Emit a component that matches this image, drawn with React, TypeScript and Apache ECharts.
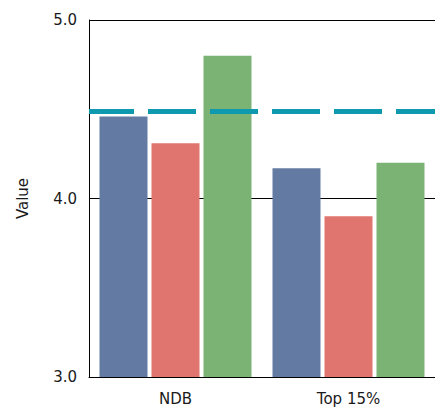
import React, { useEffect, useRef } from "react";
import * as echarts from "echarts";

const categories = ["NDB", "Top 15%"];
const seriesNames = ["Series 1", "Series 2", "Series 3"];
const seriesA = [4.46, 4.17];
const seriesB = [4.31, 3.9];
const seriesC = [4.8, 4.2];
const referenceValue = 4.49;
const colors = ["#637ba3", "#e0746e", "#7ab373"];

export default function App() {
  const ref = useRef<HTMLDivElement>(null);
  useEffect(() => {
    if (!ref.current) return;
    const chart = echarts.init(ref.current, undefined, { renderer: "svg" });
    const font = "DejaVu Sans";
    const values = [seriesA, seriesB, seriesC];
    chart.setOption({
      animation: false,
      grid: { left: 89, top: 20, height: 357, width: 350 },
      xAxis: {
        type: "category",
        data: categories,
        axisLine: { lineStyle: { color: "#000", width: 1 } },
        axisTick: { show: false },
        axisLabel: { fontFamily: font, fontSize: 15, color: "#1a1a1a", margin: 14 },
      },
      yAxis: {
        type: "value",
        min: 3,
        max: 5,
        interval: 1,
        name: "Value",
        nameLocation: "middle",
        nameGap: 59,
        nameTextStyle: { fontFamily: font, fontSize: 15, color: "#1a1a1a" },
        axisLine: { show: true, lineStyle: { color: "#000", width: 1 } },
        axisTick: { show: false },
        axisLabel: {
          fontFamily: font,
          fontSize: 15,
          color: "#1a1a1a",
          margin: 12,
          formatter: (v: number) => v.toFixed(1),
        },
        splitLine: { show: true, lineStyle: { color: "#000", width: 1 } },
      },
      series: values.map((d, i) => ({
        name: seriesNames[i],
        type: "bar",
        data: d,
        barWidth: 48,
        barGap: "8.33%",
        itemStyle: { color: colors[i] },
        ...(i === 0
          ? {
              markLine: {
                silent: true,
                symbol: "none",
                label: { show: false },
                lineStyle: {
                  color: "#0e99ae",
                  width: 5,
                  type: [48, 14],
                  dashOffset: 3,
                },
                data: [{ yAxis: referenceValue }],
              },
            }
          : {}),
      })),
    });
    return () => chart.dispose();
  }, []);
  return (
    <div
      style={{
        position: "fixed",
        left: 0,
        top: 0,
        width: 435,
        height: 409,
        overflow: "hidden",
        background: "#fff",
      }}
    >
      <div ref={ref} style={{ width: 435, height: 409 }} />
    </div>
  );
}
